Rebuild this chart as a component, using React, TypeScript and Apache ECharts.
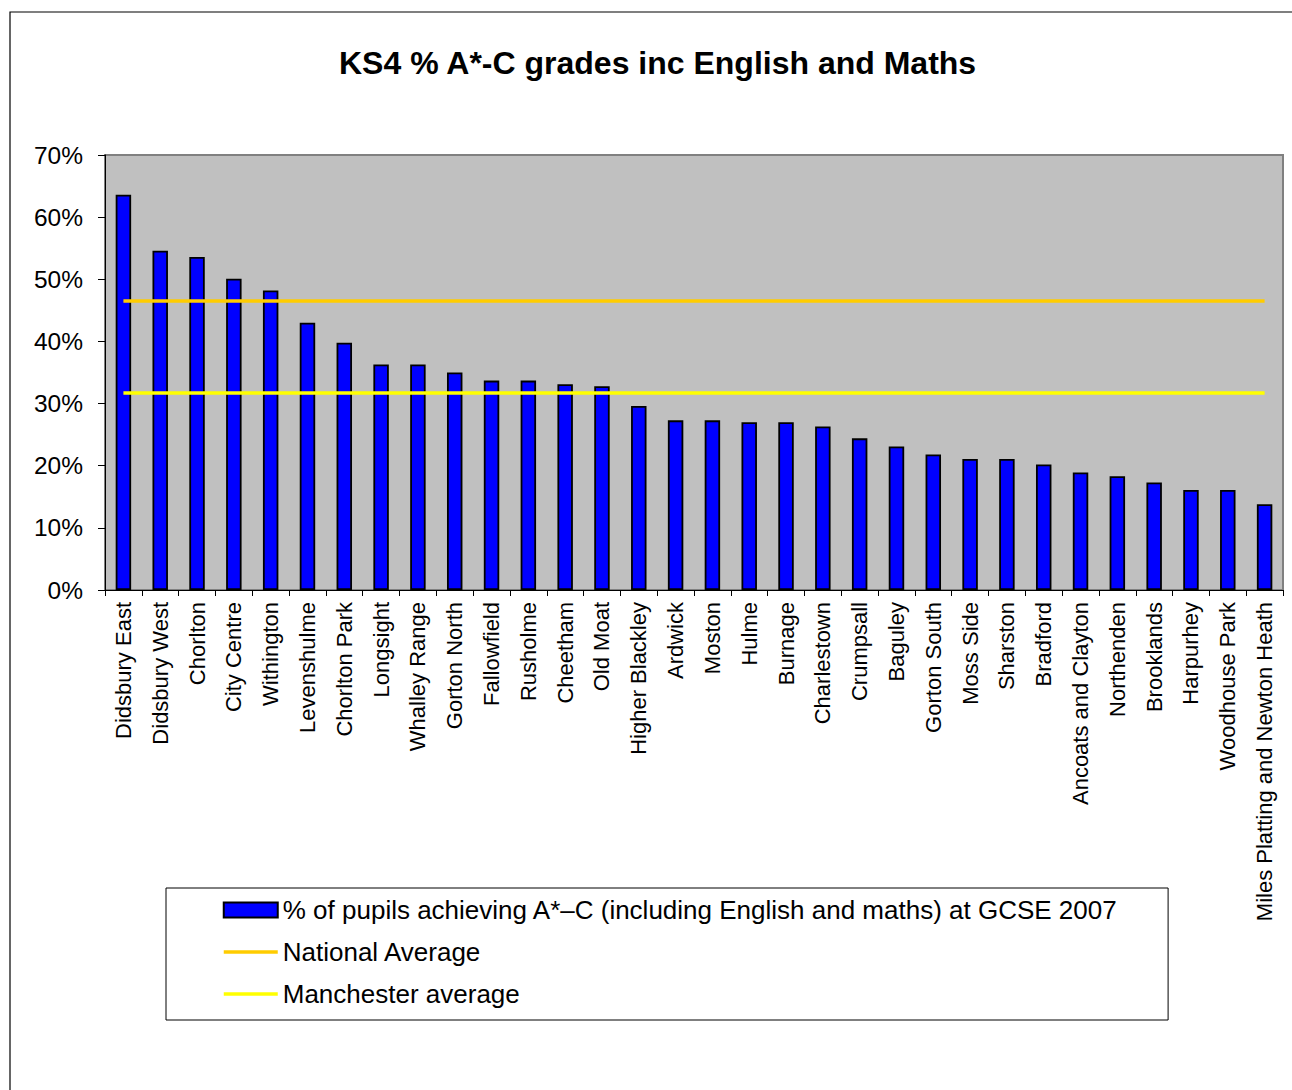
import React, { useEffect, useRef } from "react";
import * as echarts from "echarts";

const titleText = "KS4 % A*-C grades inc English and Maths";

const wards = [
  "Didsbury East", "Didsbury West", "Chorlton", "City Centre", "Withington",
  "Levenshulme", "Chorlton Park", "Longsight", "Whalley Range", "Gorton North",
  "Fallowfield", "Rusholme", "Cheetham", "Old Moat", "Higher Blackley",
  "Ardwick", "Moston", "Hulme", "Burnage", "Charlestown", "Crumpsall",
  "Baguley", "Gorton South", "Moss Side", "Sharston", "Bradford",
  "Ancoats and Clayton", "Northenden", "Brooklands", "Harpurhey",
  "Woodhouse Park", "Miles Platting and Newton Heath",
];

const pupilsPct = [
  63.6, 54.6, 53.6, 50.1, 48.2, 43.0, 39.8, 36.3, 36.3, 35.0,
  33.7, 33.7, 33.1, 32.8, 29.6, 27.3, 27.3, 27.0, 27.0, 26.3, 24.4,
  23.1, 21.8, 21.1, 21.1, 20.2, 18.9, 18.3, 17.3, 16.1, 16.1, 13.8,
];

const nationalAverage = 46.5;
const manchesterAverage = 31.7;

const seriesNames = [
  "% of pupils achieving A*\u2013C (including English and maths) at GCSE 2007",
  "National Average",
  "Manchester average",
];

const yTicks = { min: 0, max: 70, interval: 10 };

const FONT = "'Liberation Sans', Arial, sans-serif";

export default function App() {
  const ref = useRef<HTMLDivElement>(null);

  useEffect(() => {
    if (!ref.current) return;
    const chart = echarts.init(ref.current, null, { renderer: "svg" });
    const first = wards[0];
    const last = wards[wards.length - 1];
    chart.setOption({
      animation: false,
      backgroundColor: "#ffffff",
      textStyle: { fontFamily: FONT, color: "#000" },
      title: {
        text: titleText,
        left: 334,
        top: 42,
        textStyle: { fontFamily: FONT, fontSize: 32, fontWeight: "bold", color: "#000" },
      },
      graphic: [
        {
          type: "rect",
          shape: { x: 10, y: 12, width: 1300, height: 1100 },
          style: { fill: "none", stroke: "#000", lineWidth: 1.2 },
          silent: true,
        },
      ],
      grid: {
        left: 105,
        right: 9,
        top: 155,
        bottom: 500,
        show: true,
        backgroundColor: "#C0C0C0",
        borderColor: "#808080",
        borderWidth: 2,
        containLabel: false,
      },
      legend: {
        orient: "vertical",
        left: 166,
        top: 888,
        padding: [8, 50, 12, 56],
        itemGap: 14,
        itemWidth: 54,
        itemHeight: 15,
        borderColor: "#000",
        borderWidth: 1,
        backgroundColor: "#fff",
        textStyle: { fontFamily: FONT, fontSize: 26, color: "#000", lineHeight: 28 },
        data: [
          { name: seriesNames[0], icon: "rect" },
          { name: seriesNames[1], itemStyle: { opacity: 0 }, lineStyle: { width: 3.5 } },
          { name: seriesNames[2], itemStyle: { opacity: 0 }, lineStyle: { width: 3.5 } },
        ],
      },
      xAxis: {
        type: "category",
        data: wards,
        boundaryGap: true,
        axisLine: { show: true, lineStyle: { color: "#000", width: 1 } },
        axisTick: { show: true, length: 6, alignWithLabel: false, interval: 0, lineStyle: { color: "#000" } },
        axisLabel: {
          interval: 0,
          rotate: 90,
          margin: 12,
          fontFamily: FONT,
          fontSize: 22,
          color: "#000",
        },
        splitLine: { show: false },
      },
      yAxis: {
        type: "value",
        min: yTicks.min,
        max: yTicks.max,
        interval: yTicks.interval,
        axisLine: { show: true, lineStyle: { color: "#000", width: 1 } },
        axisTick: { show: true, length: 7, lineStyle: { color: "#000" } },
        axisLabel: {
          formatter: "{value}%",
          margin: 22,
          fontFamily: FONT,
          fontSize: 24.5,
          color: "#000",
        },
        splitLine: { show: false },
      },
      series: [
        {
          name: seriesNames[0],
          type: "bar",
          data: pupilsPct,
          barWidth: "42%",
          itemStyle: { color: "#0000FF", borderColor: "#000", borderWidth: 1.8 },
          z: 2,
        },
        {
          name: seriesNames[1],
          type: "line",
          data: [[first, nationalAverage], [last, nationalAverage]],
          symbol: "none",
          lineStyle: { color: "#FFCC00", width: 3.5 },
          itemStyle: { color: "#FFCC00" },
          z: 3,
        },
        {
          name: seriesNames[2],
          type: "line",
          data: [[first, manchesterAverage], [last, manchesterAverage]],
          symbol: "none",
          lineStyle: { color: "#FFFF00", width: 3.5 },
          itemStyle: { color: "#FFFF00" },
          z: 3,
        },
      ],
    });
    return () => chart.dispose();
  }, []);

  return (
    <div
      ref={ref}
      style={{ position: "absolute", left: 0, top: 0, width: 1292, height: 1090 }}
    />
  );
}
